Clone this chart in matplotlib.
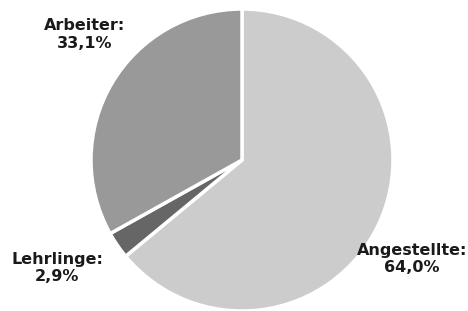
import matplotlib
matplotlib.use("Agg")
import matplotlib.pyplot as plt

categories = ["Angestellte", "Lehrlinge", "Arbeiter"]
values = [64.0, 2.9, 33.1]
value_labels = ["64,0%", "2,9%", "33,1%"]
colors = ["#cccccc", "#666666", "#999999"]

fig = plt.figure(figsize=(4.68, 3.11), dpi=100)
ax = fig.add_axes([0, 0, 1, 1])
ax.pie(values, colors=colors, startangle=90, counterclock=False,
       radius=1.0, center=(0, 0),
       wedgeprops=dict(edgecolor="white", linewidth=2.5))
ax.set_xlim(-242/151, (468-242)/151)
ax.set_ylim(-(311-160)/151, 160/151)
ax.set_aspect("equal")
ax.axis("off")

label_pos = {"Angestellte": (1.126, -0.655), "Lehrlinge": (-1.225, -0.715), "Arbeiter": (-1.04, 0.83)}
for cat, lab in zip(categories, value_labels):
    x, y = label_pos[cat]
    ax.text(x, y, f"{cat}:\n{lab}", ha="center", va="center", fontsize=11.5,
            fontweight="bold", color="#1a1a1a", linespacing=1.2, family="DejaVu Sans")

fig.savefig("out.png", dpi=100)
